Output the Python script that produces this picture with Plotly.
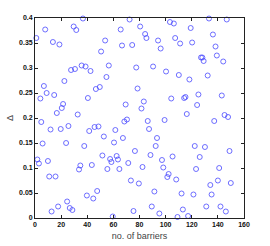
import plotly.graph_objects as go

barriers = [1.0, 1.8, 3.0, 4.1, 4.8, 5.8, 6.8, 7.8, 8.9, 9.9, 10.9, 11.9, 12.7, 13.7, 14.7, 15.7, 16.7, 17.7, 18.7, 19.7,
            20.5, 21.5, 22.5, 23.8, 24.6, 25.6, 26.6, 27.6, 28.6, 29.6, 30.6, 31.6, 32.7, 33.7, 34.7, 35.7, 36.7, 37.7, 38.7, 39.7,
            40.5, 41.5, 42.5, 43.5, 44.6, 45.6, 46.6, 47.6, 48.6, 49.6, 50.6, 51.6, 52.7, 53.7, 54.7, 55.4, 56.5, 57.5, 58.5, 59.5,
            60.5, 61.5, 62.5, 63.5, 64.6, 65.6, 66.6, 67.3, 68.4, 69.4, 70.4, 71.4, 72.4, 73.4, 74.4, 75.4, 76.5, 77.5, 78.5, 79.5,
            80.5, 81.5, 82.3, 83.3, 84.3, 85.3, 86.3, 87.3, 88.4, 89.4, 90.4, 91.4, 92.4, 93.4, 94.2, 95.2, 96.2, 97.2, 98.2, 99.2,
            100.3, 101.3, 102.3, 103.3, 104.3, 105.3, 106.3, 107.3, 108.1, 109.1, 110.1, 111.1, 112.2, 113.2, 114.2, 115.2, 116.2, 117.2, 118.2, 119.2,
            120.3, 121.3, 122.3, 123.3, 124.1, 125.1, 126.1, 127.1, 128.1, 129.1, 130.1, 131.1, 132.2, 133.2, 134.2, 135.2, 136.2, 137.2, 138.2, 139.2,
            140.0, 141.0, 142.0, 143.0, 144.1, 145.1, 146.1, 146.8, 147.8, 148.9, 149.9]

delta = [0.360, 0.117, 0.109, 0.239, 0.192, 0.149, 0.264, 0.377, 0.250, 0.114, 0.083, 0.177, 0.013, 0.352, 0.246, 0.083, 0.210, 0.023, 0.347, 0.178,
         0.220, 0.228, 0.274, 0.150, 0.033, 0.184, 0.020, 0.296, 0.016, 0.383, 0.298, 0.376, 0.207, 0.097, 0.105, 0.305, 0.399, 0.144, 0.303, 0.045,
         0.240, 0.174, 0.294, 0.106, 0.039, 0.182, 0.258, 0.054, 0.183, 0.262, 0.333, 0.125, 0.163, 0.355, 0.282, 0.098, 0.305, 0.118, 0.112, 0.003,
         0.151, 0.176, 0.124, 0.117, 0.098, 0.377, 0.345, 0.160, 0.193, 0.227, 0.197, 0.110, 0.397, 0.075, 0.346, 0.014, 0.134, 0.301, 0.259, 0.069,
         0.383, 0.219, 0.102, 0.233, 0.368, 0.360, 0.194, 0.178, 0.126, 0.023, 0.303, 0.053, 0.144, 0.160, 0.355, 0.009, 0.339, 0.116, 0.101, 0.196,
         0.293, 0.082, 0.088, 0.392, 0.239, 0.123, 0.389, 0.360, 0.077, 0.002, 0.286, 0.349, 0.049, 0.017, 0.240, 0.242, 0.208, 0.004, 0.277, 0.380,
         0.351, 0.047, 0.144, 0.098, 0.226, 0.247, 0.122, 0.321, 0.321, 0.314, 0.142, 0.023, 0.285, 0.399, 0.066, 0.047, 0.367, 0.194, 0.343, 0.325,
         0.075, 0.100, 0.023, 0.245, 0.313, 0.206, 0.013, 0.397, 0.202, 0.134, 0.070]

x_ticks = [0, 20, 40, 60, 80, 100, 120, 140, 160]
y_ticks = [0, 0.05, 0.1, 0.15, 0.2, 0.25, 0.3, 0.35, 0.4]
y_tick_labels = ["0", "0.05", "0.1", "0.15", "0.2", "0.25", "0.3", "0.35", "0.4"]

fig = go.Figure()
fig.add_trace(go.Scatter(
    x=barriers, y=delta, mode="markers",
    marker=dict(symbol="circle-open", size=5, color="#4a4aff", line=dict(width=0.8, color="#4a4aff")),
    showlegend=False, cliponaxis=False,
))

axis_common = dict(
    showline=True, linecolor="#222", linewidth=0.8, mirror="ticks",
    ticks="inside", ticklen=3, tickwidth=0.6, tickcolor="#222",
    showgrid=False, zeroline=False, automargin=False,
    tickfont=dict(family="Liberation Sans, Arial", size=7, color="#111", weight="bold"),
)

fig.update_layout(
    width=270, height=246,
    margin=dict(l=35, r=26, t=18, b=28),
    paper_bgcolor="white", plot_bgcolor="white",
    xaxis=dict(range=[0, 160], tickvals=x_ticks, ticktext=[str(v) for v in x_ticks],
               title=dict(text="no. of barriers", font=dict(family="Liberation Sans, Arial", size=9, color="#444"), standoff=5),
               **axis_common),
    yaxis=dict(range=[0, 0.4], tickvals=y_ticks, ticktext=y_tick_labels,
               title=dict(text="Δ", font=dict(family="Liberation Sans, Arial", size=9, color="#444"), standoff=3),
               **axis_common),
)

fig.write_html("out.html", config={"displayModeBar": False},
               post_script="document.body.style.margin='0';document.body.style.overflow='hidden';")
